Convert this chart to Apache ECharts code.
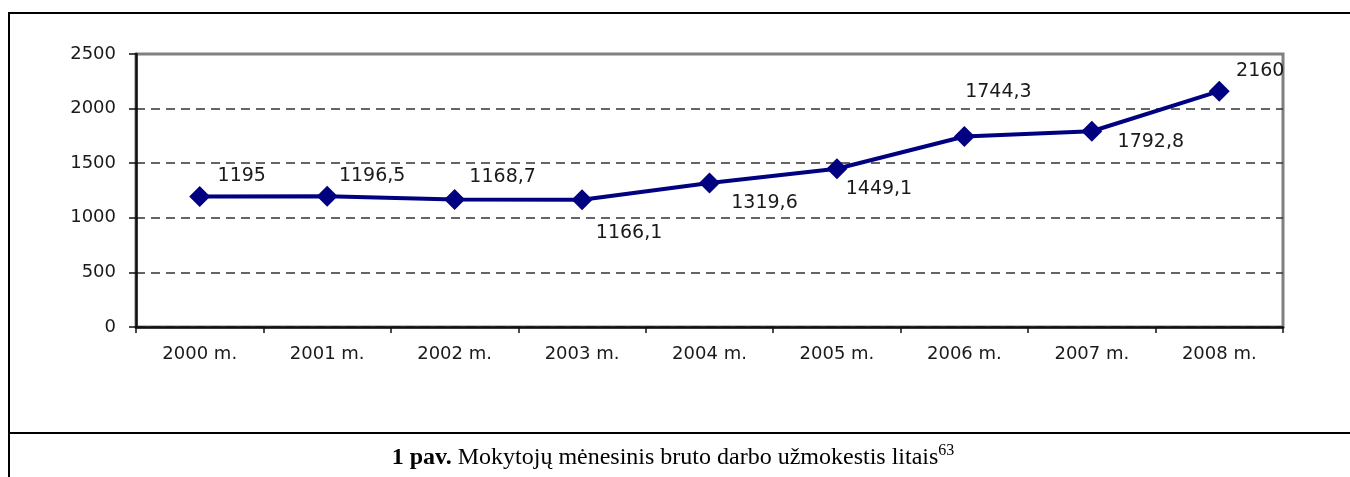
<!DOCTYPE html>
<html lang="lt">
<head>
<meta charset="utf-8">
<title>Mokytojų mėnesinis bruto darbo užmokestis</title>
<script src="https://cdn.jsdelivr.net/npm/echarts@6/dist/echarts.min.js"></script>
<style>
  html, body { margin: 0; padding: 0; background: #fff; }
  body { width: 1350px; height: 477px; position: relative; overflow: hidden; }
  #main { position: absolute; left: 0; top: 0; width: 1350px; height: 477px; }
  #frame { position: absolute; left: 8px; top: 12px; width: 1360px; height: 480px;
           border-left: 2px solid #000; border-top: 2px solid #000; pointer-events: none; }
  #line2 { position: absolute; left: 8px; top: 432px; width: 1360px; border-top: 2px solid #000; }
  #cap { position: absolute; left: 8px; top: 434px; width: 1330px; height: 60px;
         text-align: center;
         font-family: "Liberation Serif", "Times New Roman", serif; font-size: 24px;
         line-height: 28px; padding-top: 8px; color: #000; }
  #cap sup { font-size: 16px; line-height: 0; }
</style>
</head>
<body>
<div id="main"></div>
<div id="frame"></div>
<div id="line2"></div>
<div id="cap"><b>1 pav.</b> Mokytojų mėnesinis bruto darbo užmokestis litais<sup>63</sup></div>
<script type="text/javascript">
// metai
var years = ['2000 m.', '2001 m.', '2002 m.', '2003 m.', '2004 m.', '2005 m.', '2006 m.', '2007 m.', '2008 m.'];
// užmokestis, Lt
var wages = [1195, 1196.5, 1168.7, 1166.1, 1319.6, 1449.1, 1744.3, 1792.8, 2160];
// label offset from the marker centre (px)
var labelShift = [[42, -20], [45, -20], [48, -22], [47, 33], [55, 20], [42, 20], [34, -44], [59, 11], [41, -20]];

var chart = echarts.init(document.getElementById('main'));
var txt = '#1a1a1a';
var font = 'DejaVu Sans';

var points = wages.map(function (v, i) {
  return {
    value: v,
    label: { offset: labelShift[i] }
  };
});

var option = {
  animation: false,
  grid: {
    left: 136, right: 67, top: 54, bottom: 150,
    show: true, borderColor: '#808080', borderWidth: 3, backgroundColor: 'transparent'
  },
  xAxis: {
    type: 'category',
    data: years,
    boundaryGap: true,
    axisLine: { lineStyle: { color: '#111', width: 2.5 } },
    axisTick: { show: true, length: 6, lineStyle: { color: '#111', width: 1.5 } },
    axisLabel: { color: txt, fontFamily: font, fontSize: 18, margin: 18 },
    splitLine: { show: false }
  },
  yAxis: {
    type: 'value',
    min: 0, max: 2500, interval: 500,
    axisLine: { show: true, lineStyle: { color: '#111', width: 2.5 } },
    axisTick: { show: true, length: 7, lineStyle: { color: '#111', width: 1.5 } },
    axisLabel: {
      color: txt, fontFamily: font, fontSize: 18, margin: 20,
      formatter: function (v) { return String(v); }
    },
    splitLine: {
      show: true, showMaxLine: false,
      lineStyle: { color: '#333', width: 1.5, type: [9, 6] }
    }
  },
  series: [{
    type: 'line',
    data: points,
    symbol: 'diamond',
    symbolSize: 21,
    lineStyle: { color: '#000080', width: 4 },
    itemStyle: { color: '#000080' },
    label: {
      show: true,
      position: 'inside',
      color: txt, fontFamily: font, fontSize: 19,
      formatter: function (p) { return String(p.value).replace('.', ','); }
    }
  }]
};
chart.setOption(option);
</script>
</body>
</html>
